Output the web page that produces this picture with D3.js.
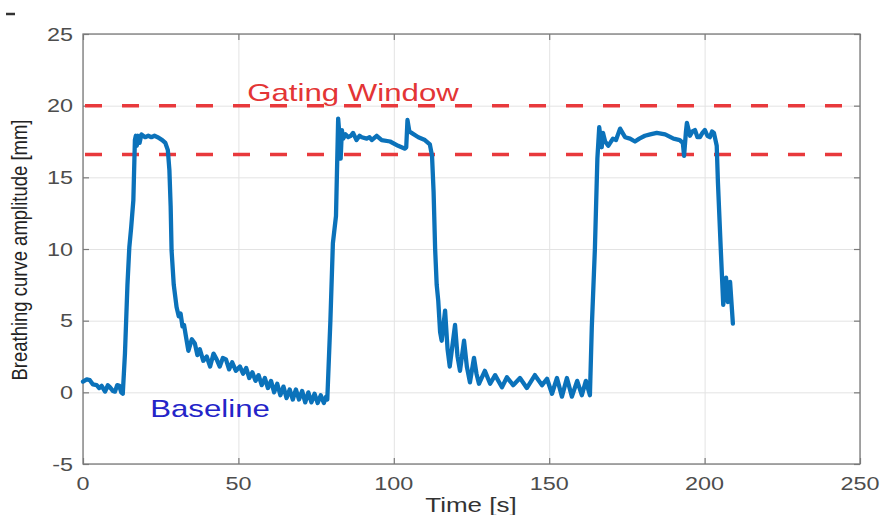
<!DOCTYPE html>
<meta charset="utf-8">
<title>Breathing curve</title>
<style>
body { margin:0; background:#fff; }
text { font-family: "Liberation Sans", Arial, sans-serif; }
.grid line { stroke:#e3e3e3; stroke-width:1; }
.tick-label { fill:#4d4d4d; font-size:18px; }
</style>
<body>
<div id="chart"></div>
<script src="https://cdn.jsdelivr.net/npm/d3@7"></script>
<script>
// breathing curve
var time = [0,1.2,2.2,3.2,4.4,5.2,6.0,7.1,8.0,8.7,9.6,10.3,11.0,11.7,12.3,12.8,
  13.5,14.3,14.9,15.5,16.2,16.7,17.0,17.3,17.7,18.2,18.8,20,21,22,23,24,25.5,26.5,27.3,27.8,
  28.2,28.5,29.2,30.1,30.8,31.4,32.0,32.5,33.2,33.9,35.0,36.0,36.8,37.6,38.7,39.8,40.9,42.0,
  43.0,44.0,45.0,46.0,47.0,48.0,49.2,50.5,51.5,52.5,53.5,54.5,55.5,56.5,57.5,58.5,59.5,60.5,
  61.5,62.5,63.5,64.5,65.5,66.5,67.5,68.5,69.5,70.5,71.5,72.5,73.5,74.5,75.5,76.5,77.5,78.2,
  78.6,79.6,80.4,81.4,82.1,82.5,82.9,83.3,83.7,84.5,85.3,86.2,86.9,88.0,89.0,89.7,91.3,92.2,
  92.9,94.5,96.1,98.8,101.4,103.6,104.0,104.4,105.0,105.7,107.9,110.0,111.6,112.3,112.8,113.3,
  113.8,114.3,114.9,115.4,116.5,117.3,118.0,119.7,120.5,121.3,122.6,123.5,124.5,125.8,126.6,
  127.4,129.3,131.0,132.6,134.8,136.4,138.4,140.6,142.8,145.4,147.7,149.3,150.9,152.5,154.1,
  155.7,157.3,159.0,160.5,161.8,163.1,163.7,164.7,165.5,166.1,166.9,167.3,168.0,169.0,170.5,
  171.5,172.8,174.4,176.0,177.6,179.0,180.8,182.5,184.6,187.3,190.0,192.0,193.0,193.4,194.0,
  194.3,195.3,196.1,196.9,197.7,198.5,199.3,200.1,200.9,201.7,202.4,203.0,203.9,204.3,205.2,
  206.0,206.9,207.5,208.2,209.1];
var amplitude = [0.75,0.9,0.85,0.55,0.5,0.3,0.45,0.05,0.5,0.35,0.1,0.05,0.5,0.45,0.0,-0.1,
  2.7,7.5,10.1,11.5,13.4,17.6,17.9,17.2,17.9,17.4,18.0,17.8,17.9,17.8,17.9,17.8,17.6,17.4,16.9,15.5,
  13.0,9.9,7.5,5.95,5.3,5.5,4.6,4.7,3.8,2.9,3.7,3.4,2.6,3.0,2.2,2.5,1.8,2.7,
  2.3,1.8,2.4,2.3,1.6,2.1,1.5,1.8,1.3,1.7,1.0,1.4,0.8,1.2,0.5,1.0,0.3,0.8,
  0.0,0.6,-0.2,0.4,-0.4,0.2,-0.5,0.2,-0.5,0.1,-0.7,0.0,-0.7,-0.1,-0.75,-0.2,-0.75,-0.3,
  -0.5,5.0,10.4,12.3,19.1,18.0,16.3,18.3,17.7,18.0,17.8,17.9,18.1,17.6,17.9,17.8,17.7,17.8,
  17.6,17.9,17.6,17.5,17.2,17.0,17.1,19.0,18.2,18.1,17.8,17.6,17.3,16.5,14.0,10.0,
  7.5,6.4,4.2,3.6,5.7,3.0,1.8,4.7,2.5,1.5,3.6,1.8,0.7,2.4,1.3,
  0.6,1.5,0.6,1.2,0.35,1.05,0.5,1.0,0.3,1.2,0.5,0.95,-0.1,1.0,-0.3,
  1.0,-0.3,0.8,-0.2,0.8,-0.2,4.5,10.0,16.3,18.5,17.1,18.1,17.5,17.2,17.7,
  17.6,18.4,17.8,17.7,17.5,17.7,17.9,18.0,18.1,18.0,17.7,17.6,17.4,16.5,18.2,
  18.8,17.9,18.2,18.3,17.8,17.8,18.1,18.3,17.9,17.8,18.2,18.1,17.2,14.6,10.0,
  6.1,8.0,6.3,7.7,4.8];

var gateLevels = [20, 16.6];
var xTicks = [0, 50, 100, 150, 200, 250];
var yTicks = [-5, 0, 5, 10, 15, 20, 25];

var W = 880, H = 515;
var pL = 83, pR = 860, pT = 34, pB = 464;
var sx = 1.3; // the picture is stretched sideways

var x = d3.scaleLinear().domain([0, 250]).range([pL, pR]);
var y = d3.scaleLinear().domain([-5, 25]).range([pB, pT]);

var svg = d3.select("#chart").append("svg")
    .attr("width", W).attr("height", H);

// grid
svg.append("g").attr("class", "grid")
  .attr("transform", "translate(0," + pB + ")")
  .call(d3.axisBottom(x).tickValues(xTicks).tickSize(-(pB - pT)).tickFormat(""))
  .call(function(g){ g.select(".domain").remove(); });
svg.append("g").attr("class", "grid")
  .attr("transform", "translate(" + pL + ",0)")
  .call(d3.axisLeft(y).tickValues(yTicks).tickSize(-(pR - pL)).tickFormat(""))
  .call(function(g){ g.select(".domain").remove(); });

// inward ticks on all four sides
function ticks(axis, tr) {
  svg.append("g").attr("transform", tr)
    .call(axis.tickSizeOuter(0).tickFormat(""))
    .call(function(g){
      g.select(".domain").remove();
      g.selectAll("line").attr("stroke", "#7a7a7a").attr("stroke-width", 1.2);
    });
}
ticks(d3.axisTop(x).tickValues(xTicks).tickSize(6), "translate(0," + pB + ")");
ticks(d3.axisBottom(x).tickValues(xTicks).tickSize(6), "translate(0," + pT + ")");
ticks(d3.axisRight(y).tickValues(yTicks).tickSize(6), "translate(" + pL + ",0)");
ticks(d3.axisLeft(y).tickValues(yTicks).tickSize(6), "translate(" + pR + ",0)");

// box
svg.append("rect")
  .attr("x", pL).attr("y", pT)
  .attr("width", pR - pL).attr("height", pB - pT)
  .attr("fill", "none").attr("stroke", "#7a7a7a").attr("stroke-width", 1.3);

function label(px, py, str, anchor, cls) {
  return svg.append("text")
    .attr("transform", "translate(" + px + "," + py + ") scale(" + sx + ",1)")
    .attr("text-anchor", anchor)
    .attr("class", cls || null)
    .text(str);
}

xTicks.forEach(function(d){ label(x(d), 490, d, "middle", "tick-label"); });
yTicks.forEach(function(d){ label(pL - 10, y(d) + 6.5, d, "end", "tick-label"); });

// gating window lines
svg.selectAll(".gate").data(gateLevels).enter().append("line")
  .attr("class", "gate")
  .attr("x1", pL).attr("x2", pR)
  .attr("y1", function(d){ return y(d); }).attr("y2", function(d){ return y(d); })
  .attr("stroke", "#e8393c").attr("stroke-width", 3.5)
  .attr("stroke-dasharray", "17,20")
  .attr("stroke-dashoffset", -2);

// breathing curve
var pts = time.map(function(t, i){ return [t, amplitude[i]]; });
svg.append("path")
  .datum(pts)
  .attr("fill", "none")
  .attr("stroke", "#0b72ba")
  .attr("stroke-width", 4.3)
  .attr("stroke-linejoin", "round")
  .attr("stroke-linecap", "round")
  .attr("d", d3.line().x(function(d){ return x(d[0]); }).y(function(d){ return y(d[1]); }));

// annotations
label(353, 101, "Gating Window", "middle").attr("fill", "#e33535").style("font-size", "24px");
label(210, 417, "Baseline", "middle").attr("fill", "#2424c8").style("font-size", "24px");

// axis titles
label(471, 512, "Time [s]", "middle").attr("fill", "#333").style("font-size", "20px");
svg.append("text")
  .attr("transform", "translate(27,250) scale(1.15,1) rotate(-90)")
  .attr("text-anchor", "middle")
  .attr("fill", "#222")
  .style("font-size", "18.5px")
  .text("Breathing curve amplitude [mm]");

// stray mark at the top left
svg.append("line")
  .attr("x1", 6).attr("x2", 15).attr("y1", 14).attr("y2", 14)
  .attr("stroke", "#333").attr("stroke-width", 2.5);
</script>
</body>
</html>
